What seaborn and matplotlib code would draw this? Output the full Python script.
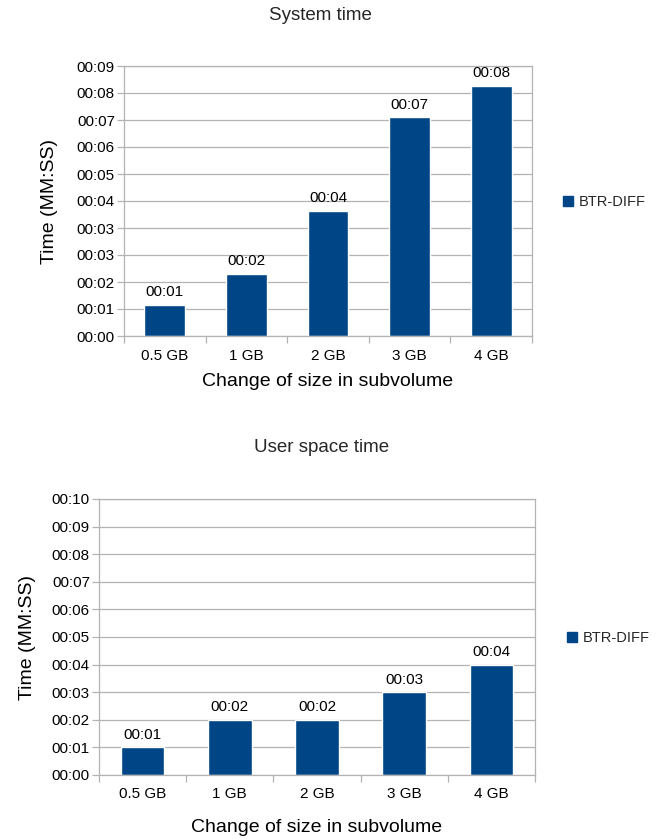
import matplotlib
matplotlib.use("Agg")
import matplotlib.pyplot as plt
import seaborn as sns
import pandas as pd
from matplotlib.ticker import FuncFormatter, FixedLocator
from matplotlib.patches import Patch

# ---- data ----
categories = ["0.5 GB", "1 GB", "2 GB", "3 GB", "4 GB"]
system_seconds = [1.0, 2.0, 4.0, 7.0, 8.0]
user_seconds = [1.0, 2.0, 2.0, 3.0, 4.0]
series_name = "BTR-DIFF"
system_tick_step = 0.864   # seconds (1e-5 day)
system_tick_count = 10
user_tick_step = 1.0
user_tick_count = 10

BAR_COLOR = "#004586"
GRID = "#b3b3b3"

sns.set_theme(style="white")
plt.rcParams['font.family'] = ['Liberation Sans', 'DejaVu Sans']


def mmss(v, pos=None):
    s = int(round(v))
    return f"{s // 60:02d}:{s % 60:02d}"


def draw(ax, values, step, count, xlabel_off, ylabel_off):
    df = pd.DataFrame({"size": categories, "time": values, "series": series_name})
    sns.barplot(data=df, x="size", y="time", color=BAR_COLOR, saturation=1,
                width=0.5, ax=ax, errorbar=None)
    ax.set_xlim(-0.5, len(categories) - 0.5)
    ax.set_ylim(0, step * count)
    ax.yaxis.set_major_locator(FixedLocator([step * i for i in range(count + 1)]))
    ax.yaxis.set_major_formatter(FuncFormatter(mmss))
    ax.grid(axis="y", color=GRID, linewidth=0.9)
    ax.set_axisbelow(True)
    for sp in ax.spines.values():
        sp.set_visible(True)
        sp.set_color(GRID)
        sp.set_linewidth(0.9)
    ax.tick_params(axis="y", which="major", left=True, length=5, width=0.9,
                   color=GRID, pad=1.5, labelsize=11, labelcolor="black")
    ax.xaxis.set_minor_locator(FixedLocator([i - 0.5 for i in range(len(categories) + 1)]))
    ax.tick_params(axis="x", which="major", length=0, pad=9, labelsize=11,
                   labelcolor="black")
    ax.tick_params(axis="x", which="minor", bottom=True, length=5, width=0.9,
                   color=GRID)
    ax.bar_label(ax.containers[0], labels=[mmss(v) for v in values],
                 padding=4, fontsize=11, color="black")
    ax.set_xlabel("Change of size in subvolume", fontsize=14, color="black")
    ax.set_ylabel("Time (MM:SS)", fontsize=14, color="black")
    ax.xaxis.set_label_coords(0.5, xlabel_off)
    ax.xaxis.label.set_va("center")
    ax.yaxis.set_label_coords(ylabel_off, 0.5)
    ax.yaxis.label.set_va("center")


fig = plt.figure(figsize=(6.62, 8.39), dpi=100)
W, H = 662, 839

ax1 = fig.add_axes([124 / W, (H - 336) / H, 408 / W, 270 / H])
draw(ax1, system_seconds, system_tick_step, system_tick_count,
     -45 / 270, -74 / 408)
ax2 = fig.add_axes([99 / W, (H - 775) / H, 436 / W, 276 / H])
draw(ax2, user_seconds, user_tick_step, user_tick_count,
     -53 / 276, -71 / 436)

fig.text(320 / W, 1 - 15 / H, "System time", ha="center", va="center", fontsize=13.5)
fig.text(322 / W, 1 - 447 / H, "User space time", ha="center", va="center", fontsize=13.5)

handle = [Patch(facecolor=BAR_COLOR, edgecolor=BAR_COLOR)]
for (lx, ly) in [(563, 202), (567, 638)]:
    fig.legend(handle, [series_name], loc="center left",
               bbox_to_anchor=(lx / W, 1 - ly / H), frameon=False,
               fontsize=10.5, handlelength=0.7, handleheight=0.7,
               handletextpad=0.4, borderpad=0, borderaxespad=0)

fig.savefig("out.png", dpi=100)
